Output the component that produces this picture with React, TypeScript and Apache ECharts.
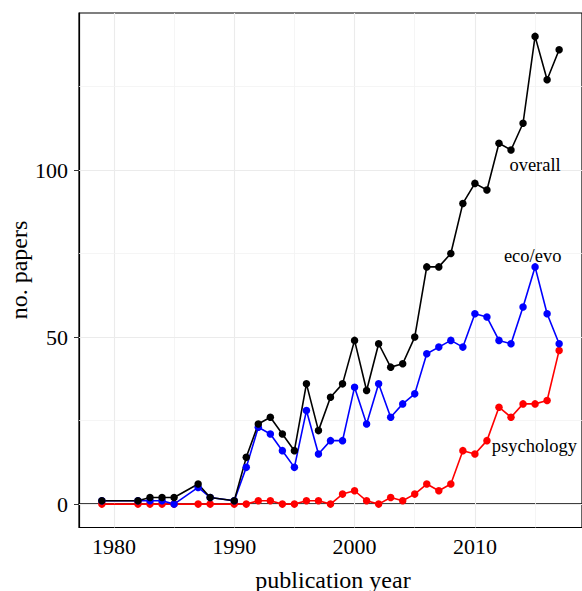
import React, { useEffect, useRef } from "react";
import * as echarts from "echarts";

const years = [1979, 1982, 1983, 1984, 1985, 1987, 1988, 1990, 1991, 1992, 1993, 1994, 1995, 1996, 1997, 1998, 1999, 2000, 2001, 2002, 2003, 2004, 2005, 2006, 2007, 2008, 2009, 2010, 2011, 2012, 2013, 2014, 2015, 2016, 2017];
const overall = [1, 1, 2, 2, 2, 6, 2, 1, 14, 24, 26, 21, 16, 36, 22, 32, 36, 49, 34, 48, 41, 42, 50, 71, 71, 75, 90, 96, 94, 108, 106, 114, 140, 127, 136];
const ecoEvo = [1, 1, 1, 1, 0, 5, 2, 1, 11, 23, 21, 16, 11, 28, 15, 19, 19, 35, 24, 36, 26, 30, 33, 45, 47, 49, 47, 57, 56, 49, 48, 59, 71, 57, 48];
const psychology = [0, 0, 0, 0, 0, 0, 0, 0, 0, 1, 1, 0, 0, 1, 1, 0, 3, 4, 1, 0, 2, 1, 3, 6, 4, 6, 16, 15, 19, 29, 26, 30, 30, 31, 46];

const xTicks = [1980, 1990, 2000, 2010];
const xMinorGrid = [1985, 1995, 2005, 2015];
const yTicks = [0, 50, 100];
const yMinorGrid = [25, 75, 125];

const labels = [
  { name: "overall", x: 2015, y: 101.5 },
  { name: "eco/evo", x: 2014.8, y: 74.3 },
  { name: "psychology", x: 2014.95, y: 17.4 },
];

const FONT = "'Liberation Serif', 'DejaVu Serif', serif";

export default function App() {
  const ref = useRef<HTMLDivElement>(null);
  useEffect(() => {
    if (!ref.current) return;
    const chart = echarts.init(ref.current, null, { renderer: "svg" });
    const pair = (arr: number[]) => years.map((y, i) => [y, arr[i]]);
    const mkSeries = (name: string, arr: number[], color: string, lab: { name: string; x: number; y: number }) => ({
      name,
      type: "line",
      data: pair(arr),
      z: 3,
      symbol: "circle",
      symbolSize: 7.5,
      itemStyle: { color },
      lineStyle: { color, width: 1.6 },
      markPoint: {
        symbol: "circle",
        symbolSize: 0,
        silent: true,
        z: 4,
        data: [
          {
            coord: [lab.x, lab.y],
            label: {
              show: true,
              position: "inside",
              formatter: lab.name,
              color: "#000",
              fontFamily: FONT,
              fontSize: 18.5,
            },
          },
        ],
      },
    });
    chart.setOption({
      animation: false,
      backgroundColor: "#fff",
      grid: {
        left: 79,
        right: -1,
        top: 13,
        bottom: 63.5,
        show: true,
        borderColor: "#000",
        borderWidth: 1.2,
        containLabel: false,
      },
      xAxis: {
        type: "value",
        min: 1977.1,
        max: 2018.9,
        axisLine: { show: true, lineStyle: { color: "#000", width: 1.5 } },
        axisTick: { show: true, customValues: xTicks, length: 5, lineStyle: { color: "#333", width: 1 } },
        axisLabel: {
          customValues: xTicks,
          formatter: (v: number) => String(Math.round(v)),
          margin: 8,
          color: "#000",
          fontFamily: FONT,
          fontSize: 22,
        },
        splitLine: { show: false },
      },
      yAxis: {
        type: "value",
        min: -7,
        max: 147,
        axisLine: { show: true, lineStyle: { color: "#000", width: 1.2 } },
        axisTick: { show: true, customValues: yTicks, length: 5, lineStyle: { color: "#333", width: 1 } },
        axisLabel: {
          customValues: yTicks,
          formatter: (v: number) => String(Math.round(v)),
          margin: 11,
          color: "#000",
          fontFamily: FONT,
          fontSize: 22,
        },
        splitLine: { show: false },
      },
      graphic: [
        {
          type: "text",
          x: 333,
          y: 567.5,
          style: { text: "publication year", fill: "#000", font: `24px ${FONT}`, align: "center", verticalAlign: "top" },
        },
        {
          type: "text",
          x: 19,
          y: 270,
          rotation: Math.PI / 2,
          style: {
            text: "no. papers",
            fill: "#000",
            font: `24px ${FONT}`,
            align: "center",
            verticalAlign: "middle",
          },
        },
      ],
      series: [
        {
          name: "grid",
          type: "line",
          data: [],
          z: 1,
          silent: true,
          markLine: {
            silent: true,
            z: 1,
            symbol: "none",
            label: { show: false },
            data: [
              ...xTicks.map((v) => ({ xAxis: v, lineStyle: { color: "#ebebeb", width: 1.1, type: "solid" } })),
              ...xMinorGrid.map((v) => ({ xAxis: v, lineStyle: { color: "#f2f2f2", width: 0.8, type: "solid" } })),
              ...yTicks.map((v) => ({ yAxis: v, lineStyle: { color: "#ebebeb", width: 1.1, type: "solid" } })),
              ...yMinorGrid.map((v) => ({ yAxis: v, lineStyle: { color: "#f2f2f2", width: 0.8, type: "solid" } })),
            ],
          },
        },
        mkSeries("psychology", psychology, "#ff0000", labels[2]),
        mkSeries("eco/evo", ecoEvo, "#0000ff", labels[1]),
        mkSeries("overall", overall, "#000000", labels[0]),
      ],
    });
    return () => chart.dispose();
  }, []);
  return (
    <div
      ref={ref}
      style={{ position: "absolute", left: 0, top: 0, width: 582, height: 591 }}
    />
  );
}
